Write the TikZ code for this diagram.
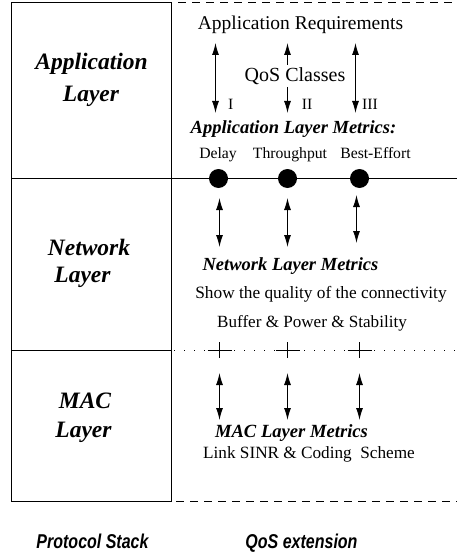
\documentclass[tikz,border=0pt]{standalone}
\usepackage{fontspec}
\setmainfont{Liberation Serif}
\newfontfamily\capsans[FakeStretch=0.8]{Liberation Sans}
\usetikzlibrary{arrows.meta}

\tikzset{
  frame/.style={line width=1.2pt},
  dashline/.style={line width=1.1pt, dash pattern=on 8pt off 6pt},
  dotline/.style={line width=1.1pt, dash pattern=on 1.2pt off 8.8pt},
  txt/.style={inner sep=0pt, anchor=base},
  layername/.style={txt, font=\fontsize{23.5}{28}\selectfont\bfseries\itshape},
  metric/.style={txt, font=\fontsize{18.5}{22}\selectfont\bfseries\itshape},
  body/.style={txt, font=\fontsize{17.2}{20}\selectfont},
  small/.style={txt, font=\fontsize{15.7}{19}\selectfont},
  caption/.style={txt, font=\capsans\fontsize{20}{24}\selectfont\bfseries\itshape},
  head/.style={Latex[length=12pt,width=7pt]},
  link/.style={line width=1pt, {Latex[length=12pt,width=7pt]}-{Latex[length=12pt,width=7pt]}},
  uplink/.style={line width=1pt, {Latex[length=12pt,width=7pt]}-},
  downlink/.style={line width=1pt, -{Latex[length=12pt,width=7pt]}},
  hub/.style={circle, fill=black, minimum size=19pt, inner sep=0pt},
  tick/.style={line width=1.1pt},
}

\begin{document}
\begin{tikzpicture}[x=1pt,y=-1pt]
\useasboundingbox (0,0) rectangle (457,556);

% protocol stack column and layer borders
\draw[frame] (11.5,2.5) rectangle (171.5,501.5);
\draw[frame] (11.5,178.5) -- (457,178.5);
\draw[frame] (11.5,350.5) -- (171.5,350.5);
\draw[dashline] (178,2.5) -- (454,2.5);
\draw[dashline] (176,501.5) -- (457,501.5);
\draw[dotline] (174,350.5) -- (457,350.5);

% layer names
\node[layername] (appA) at (91.5,70) {Application};
\node[layername] (appB) at (91,102) {Layer};
\node[layername] (netA) at (89,255) {Network};
\node[layername] (netB) at (82.5,282) {Layer};
\node[layername] (macA) at (85,408) {MAC};
\node[layername] (macB) at (83.5,437) {Layer};

% application layer: requirements and QoS classes
\node[txt, font=\fontsize{19.5}{23}\selectfont] (req) at (300.5,30) {Application Requirements};
\node[txt, font=\fontsize{20}{24}\selectfont] (qos) at (295,82) {QoS Classes};
\node[small] (c1) at (230.7,110) {I};
\node[small] (c2) at (307,110) {II};
\node[small] (c3) at (370,110) {III};

\coordinate (a1t) at (215.5,43);  \coordinate (a1b) at (215.5,113);
\coordinate (a2t) at (287.5,43);  \coordinate (a2b) at (287.5,113);
\coordinate (a3t) at (355.5,43);  \coordinate (a3b) at (355.5,113);
\coordinate (a2m) at (287.5,65);  \coordinate (a2n) at (287.5,87);
\draw[link] (a1t) -- (a1b);
\draw[uplink] (a2t) -- (a2m);
\draw[downlink] (a2n) -- (a2b);
\draw[link] (a3t) -- (a3b);

\node[metric] (appm) at (293.5,134) {Application Layer Metrics:};
\node[small] (m1) at (218,158) {Delay};
\node[small] (m2) at (290,158) {Throughput};
\node[small] (m3) at (375.5,158) {Best-Effort};

% junctions on the application/network boundary
\node[hub] (h1) at (218.5,178.5) {};
\node[hub] (h2) at (287.5,178.5) {};
\node[hub] (h3) at (359.5,178.5) {};

% network layer
\coordinate (n1t) at (219.5,198); \coordinate (n1b) at (219.5,247);
\coordinate (n2t) at (287.5,198); \coordinate (n2b) at (287.5,247);
\coordinate (n3t) at (356.5,195); \coordinate (n3b) at (356.5,243);
\draw[link] (n1t) -- (n1b);
\draw[link] (n2t) -- (n2b);
\draw[link] (n3t) -- (n3b);

\node[metric] (netm) at (290.5,270) {Network Layer Metrics};
\node[txt, font=\fontsize{17.3}{20}\selectfont] (conn) at (321,298) {Show the quality of the connectivity};
\node[txt, font=\fontsize{17.1}{20}\selectfont] (buf) at (312,327) {Buffer \& Power \& Stability};

% crossings on the network/MAC boundary
\foreach \x in {219.5,287.5,359.5} {
  \draw[tick] (\x-12,350.5) -- (\x+12,350.5);
  \draw[tick] (\x,342) -- (\x,358);
}

% MAC layer
\coordinate (k1t) at (219.5,373); \coordinate (k1b) at (219.5,420);
\coordinate (k2t) at (287.5,373); \coordinate (k2b) at (287.5,420);
\coordinate (k3t) at (359.5,373); \coordinate (k3b) at (359.5,420);
\draw[link] (k1t) -- (k1b);
\draw[link] (k2t) -- (k2b);
\draw[link] (k3t) -- (k3b);

\node[metric, font=\fontsize{18.6}{22}\selectfont\bfseries\itshape] (macm) at (291.5,437) {MAC Layer Metrics};
\node[body] (sinr) at (309,458) {Link SINR \& Coding~ Scheme};

% column captions
\node[caption] (stack) at (92.5,548) {Protocol Stack};
\node[caption] (ext) at (301.5,548) {QoS extension};
\end{tikzpicture}
\end{document}
